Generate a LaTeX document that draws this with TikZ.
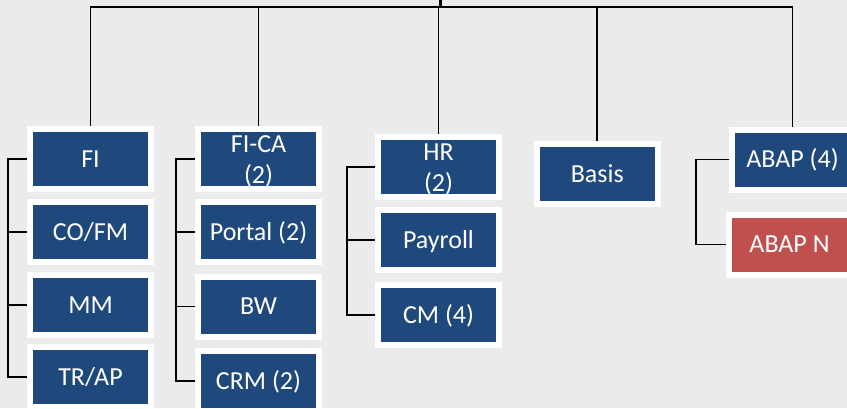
\documentclass[tikz,border=0pt]{standalone}
\usepackage{fontspec}
\setmainfont{Carlito}
\usetikzlibrary{calc}
\definecolor{sapblue}{HTML}{1F497D}
\definecolor{sapred}{HTML}{C0504D}
\definecolor{canvas}{HTML}{EBEBEB}

\begin{document}
\begin{tikzpicture}[x=1pt, y=-1pt]
            \tikzset{modbase/.style={fill=sapblue, draw=white, line width=6pt, minimum width=121pt, minimum height=60pt, inner sep=0pt, text=white, font=\fontsize{26}{31}\selectfont}}
            \tikzset{module/.style={modbase, text height=16.7pt, text depth=0pt}}
            \tikzset{twoline/.style={modbase, align=center, text height=54pt, text depth=5.5pt}}
            \tikzset{link/.style={black, line width=1.9pt}}
            \fill[canvas] (0,0) rectangle (847,408);
            \useasboundingbox (0,0) rectangle (847,408);
            \node[module] (fi) at (90.5,159) {FI};
            \node[module] (cofm) at (90.5,232) {CO/FM};
            \node[module] (mm) at (90.5,305) {MM};
            \node[module] (trap) at (90.5,377) {TR/AP};
            \node[twoline] (fica) at (258.5,159) {FI-CA\\(2)};
            \node[module] (portal) at (258.5,232) {Portal (2)};
            \node[module] (bw) at (258.5,306.5) {BW};
            \node[module] (crm) at (258.5,381) {CRM (2)};
            \node[twoline] (hr) at (438.5,167) {HR\\(2)};
            \node[module] (payroll) at (438.5,239.7) {Payroll};
            \node[module] (cm) at (438.5,314.7) {CM (4)};
            \node[module] (basis) at (597.3,174) {Basis};
            \node[module] (abap) at (792.5,159.5) {ABAP (4)};
            \node[module, fill=sapred] (abapn) at (789.5,244.5) {ABAP N};
            \coordinate (root) at (440,0);
            \coordinate (bus) at (440,7);
            \draw[link, line width=3pt] (root) -- (bus);
            \draw[link] (fi.north) |- (bus) -| (abap.north);
            \foreach \m in {fica, hr, basis} {
                \draw[link] (\m.north) -- (\m.north |- bus);
            }
            \foreach \first/\last/\gap in {fi/trap/19, fica/crm/19, hr/cm/28, abap/abapn/33} {
                \draw[link] (\first.west) -- ++(-\gap,0) |- (\last.west);
            }
            \foreach \first/\m/\gap in {fi/cofm/19, fi/mm/19, fica/portal/19, fica/bw/19, hr/payroll/28} {
                \draw[link] ([xshift=-\gap pt]\first.west |- \m.west) -- (\m.west);
            }
        \end{tikzpicture}
\end{document}
